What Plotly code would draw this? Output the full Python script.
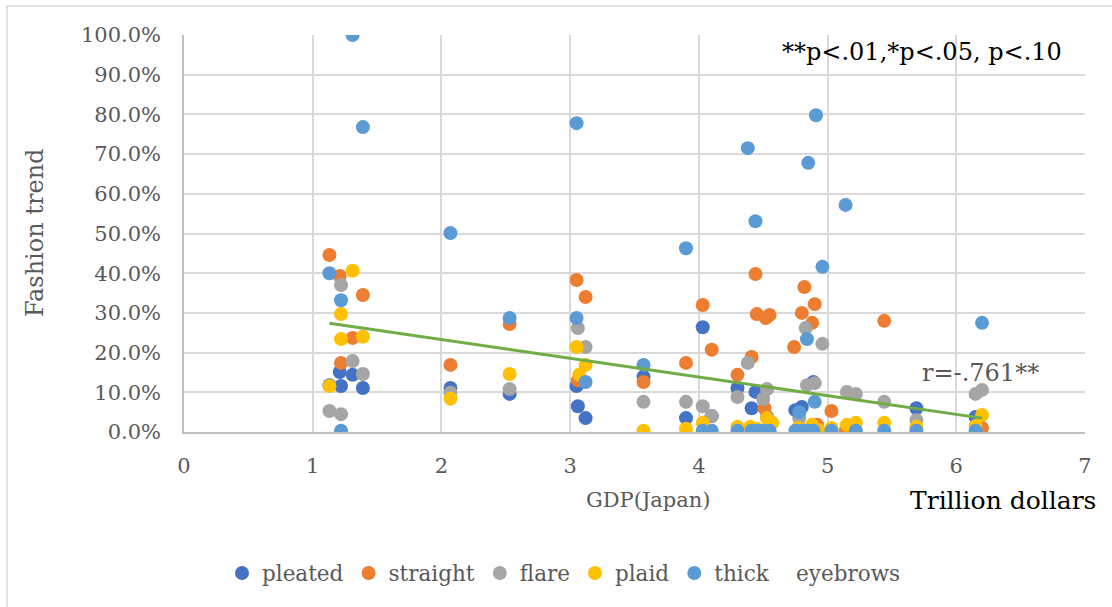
import plotly.graph_objects as go

# ---- data (GDP in trillion dollars, fashion trend in %) ----
pleated_x = [1.13, 1.21, 1.31, 1.22, 1.39, 2.07, 2.53, 3.05, 3.06, 3.12, 3.57, 3.90, 4.03, 4.10,
             4.30, 4.41, 4.44, 4.53, 4.75, 4.80, 4.89, 5.69, 6.15]
pleated_y = [11.8, 15.1, 14.4, 11.6, 11.1, 11.1, 9.6, 11.6, 6.5, 3.5, 13.9, 3.5, 26.4, 4.0,
             11.1, 6.0, 10.1, 3.8, 5.5, 6.3, 12.6, 6.0, 3.8]

straight_x = [1.13, 1.21, 1.39, 1.31, 1.22, 2.07, 2.53, 3.05, 3.12, 3.06, 3.57, 3.90, 4.03, 4.10,
              4.30, 4.41, 4.44, 4.45, 4.52, 4.55, 4.51, 4.74, 4.80, 4.82, 4.88, 4.90, 5.03, 5.44,
              6.20, 4.92, 5.14]
straight_y = [44.6, 39.3, 34.5, 23.7, 17.4, 16.9, 27.2, 38.3, 34.0, 13.0, 12.6, 17.4, 32.0, 20.7,
              14.4, 18.9, 39.8, 29.7, 28.7, 29.5, 6.0, 21.4, 30.0, 36.5, 27.5, 32.2, 5.3, 28.0,
              1.0, 1.8, 0.3]

flare_x = [1.13, 1.22, 1.22, 1.31, 1.39, 2.07, 2.53, 3.06, 3.12, 3.57, 3.90, 4.03, 4.10, 4.30,
           4.38, 4.53, 4.50, 4.83, 4.96, 4.84, 4.90, 4.78, 5.15, 5.22, 5.44, 5.69, 6.15, 6.20]
flare_y = [5.3, 4.5, 37.0, 17.9, 14.6, 9.9, 10.8, 26.2, 21.4, 7.6, 7.6, 6.5, 4.0, 8.8,
           17.4, 10.8, 8.3, 26.2, 22.2, 11.8, 12.3, 3.5, 10.1, 9.6, 7.6, 3.0, 9.6, 10.6]

plaid_x = [1.13, 1.22, 1.22, 1.31, 1.39, 2.07, 2.53, 3.05, 3.12, 3.07, 3.57, 3.90, 4.03, 4.30,
           4.40, 4.45, 4.53, 4.57, 4.77, 4.82, 4.88, 4.93, 5.03, 5.15, 5.22, 5.44, 5.69, 6.20, 6.15]
plaid_y = [11.6, 29.7, 23.4, 40.6, 24.0, 8.4, 14.6, 21.4, 16.9, 14.4, 0.3, 0.8, 2.3, 1.3,
           1.3, 0.8, 3.5, 2.3, 1.0, 0.5, 1.8, 0.5, 1.0, 1.8, 2.3, 2.3, 1.3, 4.3, 1.5]

thick_x = [1.13, 1.22, 1.31, 1.39, 1.22, 2.07, 2.53, 3.05, 3.05, 3.12, 3.57, 3.90, 4.03, 4.10,
           4.30, 4.38, 4.44, 4.41, 4.46, 4.50, 4.55, 4.75, 4.80, 4.85, 4.89, 4.91, 4.85, 4.84,
           4.96, 4.90, 4.78, 5.14, 5.03, 5.22, 5.44, 5.69, 6.15, 6.20]
thick_y = [40.0, 33.2, 100.0, 76.8, 0.3, 50.1, 28.7, 28.7, 77.8, 12.6, 16.9, 46.3, 0.3, 0.3,
           0.3, 71.5, 53.1, 0.3, 0.3, 0.3, 0.3, 0.3, 0.3, 0.3, 0.3, 79.8, 67.8, 23.4,
           41.6, 7.6, 5.0, 57.2, 0.3, 0.3, 0.3, 0.3, 0.3, 27.5]

trend_x = [1.13, 6.20]
trend_y = [27.4, 3.5]

NB = "\u00a0"
series = [
    ("pleated", pleated_x, pleated_y, "#4472C4"),
    ("straight", straight_x, straight_y, "#ED7D31"),
    ("flare", flare_x, flare_y, "#A5A5A5"),
    ("plaid", plaid_x, plaid_y, "#FFC000"),
    ("thick" + NB * 4 + "eyebrows", thick_x, thick_y, "#5B9BD5"),
]

FONT = "DejaVu Serif"
GRAY = "#595959"

fig = go.Figure()
for name, xs, ys, col in series:
    fig.add_trace(go.Scatter(
        x=xs, y=[v / 100 for v in ys], mode="markers", name=name,
        marker=dict(size=14, color=col, line=dict(width=0)),
    ))
fig.add_trace(go.Scatter(
    x=trend_x, y=[v / 100 for v in trend_y], mode="lines", showlegend=False,
    line=dict(color="#70AD47", width=3), hoverinfo="skip",
))

L, R, T, B = 184, 27, 35, 175
W, H = 1112, 607
pw, ph = W - L - R, H - T - B


def px(xp):
    return (xp - L) / pw


def py(yp):
    return (H - B - yp) / ph


fig.update_layout(
    width=W, height=H,
    margin=dict(l=L, r=R, t=T, b=B, pad=0),
    paper_bgcolor="white", plot_bgcolor="white",
    font=dict(family=FONT, color=GRAY, size=20),
    showlegend=True,
    legend=dict(orientation="h", x=px(222), xanchor="left", y=py(573), yanchor="middle",
                font=dict(family=FONT, size=21.5, color=GRAY), itemwidth=30,
                bgcolor="rgba(0,0,0,0)"),
    xaxis=dict(range=[0, 7], dtick=1, tick0=0, showgrid=True, gridcolor="#D9D9D9",
               gridwidth=1.5, zeroline=False, showline=True, linecolor="#BFBFBF",
               linewidth=1.5, ticks="", ticklabelstandoff=14,
               tickfont=dict(family=FONT, size=21, color=GRAY), fixedrange=True),
    yaxis=dict(range=[0, 1.0], dtick=0.1, tickformat=".1%", showgrid=True,
               gridcolor="#D9D9D9", gridwidth=1.5, zeroline=False, showline=True,
               linecolor="#BFBFBF", linewidth=1.5, ticks="", ticklabelstandoff=17,
               tickfont=dict(family=FONT, size=21, color=GRAY), fixedrange=True),
)

# white box behind the significance note (hides gridlines)
fig.add_shape(type="rect", xref="paper", yref="paper",
              x0=px(761), x1=px(1095), y0=py(83), y1=py(27),
              fillcolor="white", line=dict(width=0), layer="between")
# outer chart border
fig.add_shape(type="rect", xref="paper", yref="paper",
              x0=px(7), x1=px(1120), y0=py(620), y1=py(6),
              fillcolor="rgba(0,0,0,0)", line=dict(color="#D9D9D9", width=1.5), layer="above")

ann = [
    dict(text="Fashion trend", x=px(35), y=py(233), textangle=-90, font=dict(size=24, color=GRAY)),
    dict(text="GDP(Japan)", x=px(648), y=py(500), font=dict(size=21, color=GRAY)),
    dict(text="Trillion dollars", x=px(1003), y=py(500), font=dict(size=25, color="black")),
    dict(text="**p<.01,*p<.05, p<.10", x=px(922), y=py(52), font=dict(size=24, color="black")),
    dict(text="r=-.761**", x=px(980), y=py(373), font=dict(size=24, color=GRAY)),
]
for a in ann:
    a["font"]["family"] = FONT
    fig.add_annotation(xref="paper", yref="paper", showarrow=False,
                       xanchor="center", yanchor="middle", **a)

fig.write_html("out.html")
